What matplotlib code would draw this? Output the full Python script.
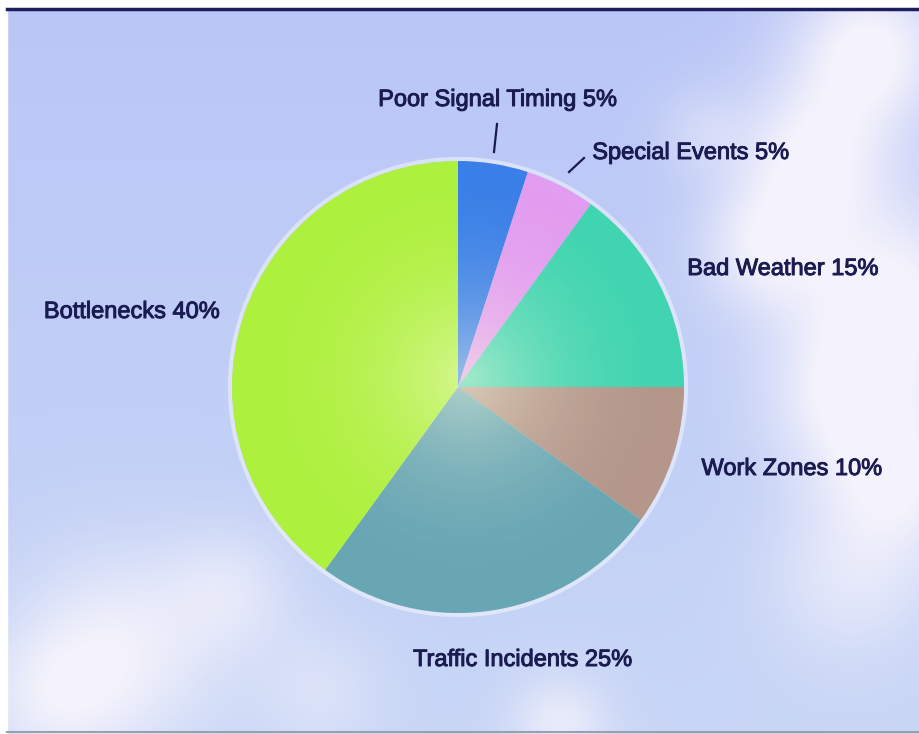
import numpy as np
import matplotlib
matplotlib.use("Agg")
import matplotlib.pyplot as plt
import matplotlib.patheffects as pe
from matplotlib.patches import Circle

# data (clockwise from 12 o'clock)
causes = ["Poor Signal Timing", "Special Events", "Bad Weather", "Work Zones",
          "Traffic Incidents", "Bottlenecks"]
shares = [5, 5, 15, 10, 25, 40]
slice_colors = ["#3a7fe8", "#e29cf0", "#40d4b0", "#b4968a", "#68a6b4", "#aef03e"]

W, H = 920, 734
CX, CY, R = 458, H - 387, 226

fig = plt.figure(figsize=(9.2, 7.34), dpi=100)
ax = fig.add_axes([0, 0, 1, 1])

# sky background with soft clouds
yy, xx = np.mgrid[0:H, 0:W]
py = yy  # pixel row from top
base = np.zeros((H, W, 3))
top = np.array([186, 198, 246]) / 255
bot = np.array([200, 214, 246]) / 255
t = py / H
for c in range(3):
    base[..., c] = top[c] * (1 - t) + bot[c] * t
cloud = np.zeros((H, W))
blobs = [(870, 50, 55, 1.0), (810, 160, 55, 0.9), (760, 250, 45, 0.7),
         (890, 300, 70, 1.0), (840, 400, 55, 0.7), (900, 480, 55, 0.8),
         (850, 580, 60, 0.55), (700, 130, 30, 0.3), (120, 650, 70, 0.8),
         (230, 590, 45, 0.5), (50, 700, 50, 0.55), (560, 725, 35, 0.7),
         (320, 690, 45, 0.4)]
for bx, by, s, a in blobs:
    cloud += a * np.exp(-((xx - bx) ** 2 + (py - by) ** 2) / (2 * s ** 2))
cloud = np.clip(cloud, 0, 0.95)[..., None]
sky = base * (1 - cloud) + np.array([0.97, 0.96, 0.99]) * cloud
ax.imshow(sky, extent=[0, W, 0, H], origin="upper", zorder=0, aspect="auto")

# faint glow around pie
ax.add_patch(Circle((CX, CY), R + 2, facecolor="none", edgecolor="white",
                    linewidth=3, alpha=0.45, zorder=1))

wedges, _ = ax.pie(shares, colors=slice_colors, startangle=90, counterclock=False,
                   center=(CX, CY), radius=R, frame=True,
                   wedgeprops=dict(linewidth=0, zorder=2))
ax.set_xlim(0, W)
ax.set_ylim(0, H)
ax.set_aspect("auto")
ax.axis("off")

# radial highlight on the pie
gx, gy = 468, 378
dist = np.sqrt((xx - gx) ** 2 + (py - gy) ** 2) / R
glow = np.zeros((H, W, 4))
glow[..., :3] = [1.0, 1.0, 0.9]
glow[..., 3] = np.clip(0.5 * (1 - dist) ** 2.2, 0, 1)
im = ax.imshow(glow, extent=[0, W, 0, H], origin="upper", zorder=3, aspect="auto")
im.set_clip_path(Circle((CX, CY), R, transform=ax.transData))

# labels
label_pos = [(498, 100), (691, 153), (783, 269), (792, 469), (523, 660), (132, 312)]
navy = "#1a1b50"
for name, pct, (lx, ly) in zip(causes, shares, label_pos):
    ax.text(lx, H - ly, f"{name} {pct}%", ha="center", va="center", fontsize=17,
            color=navy, family="Liberation Sans", zorder=5,
            path_effects=[pe.withStroke(linewidth=0.7, foreground=navy)])

# leader lines for the two small slices
ax.plot([497, 494], [H - 124, H - 152], color=navy, lw=1.6, zorder=5)
ax.plot([584, 569], [H - 158, H - 172], color=navy, lw=1.6, zorder=5)

# frame lines
ax.add_patch(plt.Rectangle((0, 0), 7, H, color="white", zorder=6))
ax.add_patch(plt.Rectangle((0, H - 7), W, 7, color="white", zorder=6))
ax.plot([7, W], [H - 8.5, H - 8.5], color="#1d1f5c", lw=2.5, zorder=7)
ax.plot([7, W], [2, 2], color="#9aa0b0", lw=1.5, zorder=7)

fig.savefig("out.png", dpi=100)
